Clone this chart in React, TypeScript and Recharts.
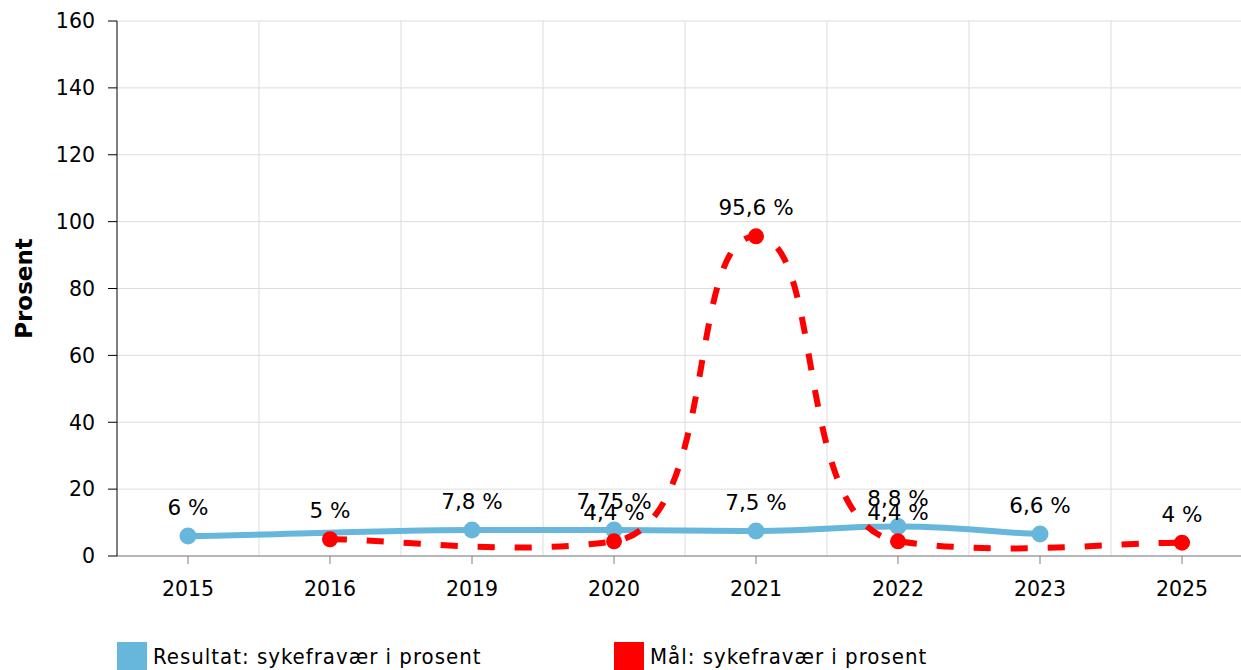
import React from "react";
import {
  CartesianGrid,
  LabelList,
  Line,
  LineChart,
  XAxis,
  YAxis,
} from "recharts";

const years = ["2015", "2016", "2019", "2020", "2021", "2022", "2023", "2025"];
const resultat = [6, null, 7.8, 7.75, 7.5, 8.8, 6.6, null];
const maal = [null, 5, null, 4.4, 95.6, 4.4, null, 4];
const yTicks = [0, 20, 40, 60, 80, 100, 120, 140, 160];

const data = years.map((year, i) => ({
  year,
  resultat: resultat[i],
  maal: maal[i],
}));

const FONT = "'DejaVu Sans', Verdana, sans-serif";
const BLUE = "#67b7dc";
const RED = "#ff0000";

const fmt = (v: number) => String(v).replace(".", ",") + " %";

// smoothing with separate x / y tension (cubic, control points from neighbours)
const tensionCurve = (kx: number, ky: number) => (context: any) => {
  let pts: number[][] = [];
  return {
    areaStart() {},
    areaEnd() {},
    lineStart() {
      pts = [];
    },
    lineEnd() {
      const n = pts.length;
      if (!n) return;
      context.moveTo(pts[0][0], pts[0][1]);
      for (let i = 0; i < n - 1; i++) {
        const p0 = pts[i - 1] || pts[i];
        const p1 = pts[i];
        const p2 = pts[i + 1];
        const p3 = pts[i + 2] || p2;
        context.bezierCurveTo(
          p1[0] + kx * (p2[0] - p0[0]),
          p1[1] + ky * (p2[1] - p0[1]),
          p2[0] - kx * (p3[0] - p1[0]),
          p2[1] - ky * (p3[1] - p1[1]),
          p2[0],
          p2[1]
        );
      }
    },
    point(x: number, y: number) {
      pts.push([+x, +y]);
    },
  };
};

const smooth = tensionCurve(0.25, 0.05);

const PointLabel = (props: any) => {
  const { x, y, value } = props;
  if (value == null) return null;
  return (
    <text
      x={x}
      y={y - 21}
      textAnchor="middle"
      fontFamily={FONT}
      fontSize={21.5}
      fill="#000"
    >
      {fmt(value)}
    </text>
  );
};

const YLabel = (props: any) => {
  const { viewBox } = props;
  const cy = viewBox.y + viewBox.height / 2;
  return (
    <text
      x={24}
      y={cy}
      transform={`rotate(-90, 24, ${cy})`}
      textAnchor="middle"
      dominantBaseline="central"
      fontFamily={FONT}
      fontSize={23}
      fontWeight="bold"
      fill="#000"
    >
      Prosent
    </text>
  );
};

function App() {
  return (
    <div
      style={{
        position: "absolute",
        left: 0,
        top: 0,
        width: 1241,
        height: 670,
        overflow: "hidden",
        background: "#fff",
      }}
    >
      <LineChart
        width={1260}
        height={616}
        data={data}
        margin={{ top: 21, right: 7, left: 0, bottom: 0 }}
      >
        <CartesianGrid
          stroke="#dcdcdc"
          verticalCoordinatesGenerator={({ offset }: any) =>
            years.map(
              (_, i) => offset.left + ((i + 1) * offset.width) / years.length
            )
          }
        />
        <XAxis
          dataKey="year"
          scale="band"
          height={60}
          tickSize={8}
          tickMargin={17}
          stroke="#808080"
          tick={{ fill: "#000", fontFamily: FONT, fontSize: 20.5 }}
        />
        <YAxis
          width={117}
          domain={[0, 160]}
          ticks={yTicks}
          tickSize={9}
          tickMargin={13}
          stroke="#000"
          tick={{ fill: "#000", fontFamily: FONT, fontSize: 20.5 }}
          label={<YLabel />}
        />
        <Line
          type={smooth as any}
          dataKey="resultat"
          stroke={BLUE}
          strokeWidth={6}
          connectNulls
          dot={{ r: 8.5, fill: BLUE, stroke: "none" }}
          activeDot={false}
          isAnimationActive={false}
        >
          <LabelList dataKey="resultat" content={<PointLabel />} />
        </Line>
        <Line
          type={smooth as any}
          dataKey="maal"
          stroke={RED}
          strokeWidth={6}
          strokeDasharray="17 20"
          connectNulls
          dot={{ r: 8, fill: RED, stroke: "none", strokeDasharray: "" }}
          activeDot={false}
          isAnimationActive={false}
        >
          <LabelList dataKey="maal" content={<PointLabel />} />
        </Line>
      </LineChart>
      <div
        style={{
          position: "absolute",
          top: 642,
          left: 117,
          display: "flex",
          fontFamily: "'DejaVu Sans Condensed', 'DejaVu Sans', sans-serif",
          fontSize: 22,
          letterSpacing: 1,
          color: "#000",
        }}
      >
        {[
          { name: "Resultat: sykefravær i prosent", color: BLUE },
          { name: "Mål: sykefravær i prosent", color: RED },
        ].map((item) => (
          <div
            key={item.name}
            style={{ display: "flex", alignItems: "center", width: 497 }}
          >
            <span
              style={{
                display: "inline-block",
                width: 30,
                height: 28,
                background: item.color,
                marginRight: 6,
              }}
            />
            <span>{item.name}</span>
          </div>
        ))}
      </div>
    </div>
  );
}

export default App;
